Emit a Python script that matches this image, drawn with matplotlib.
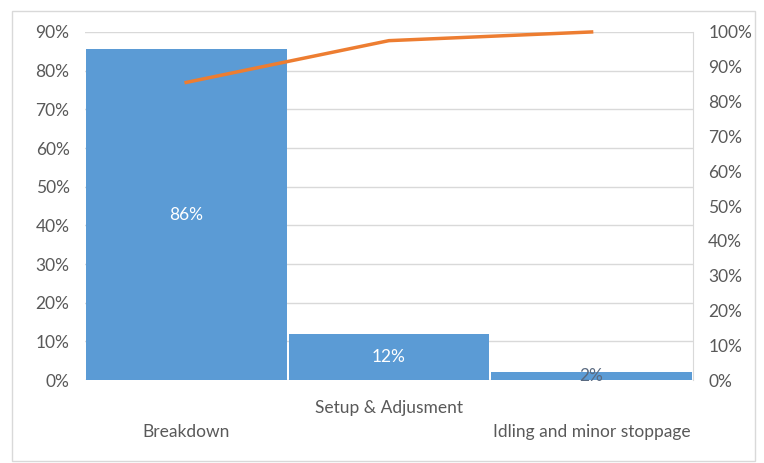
import matplotlib.pyplot as plt
from matplotlib.patches import Rectangle
from matplotlib.ticker import PercentFormatter

# Pareto data (share of losses)
categories = ['Breakdown', 'Setup & Adjusment', 'Idling and minor stoppage']
share = [0.855, 0.12, 0.02]
cumulative = [0.855, 0.975, 1.00]
bar_labels = ['86%', '12%', '2%']

plt.rcParams['font.family'] = ['Lato', 'DejaVu Sans']
grey = '#595959'
fs = 12.5

fig = plt.figure(figsize=(7.64, 4.63), dpi=100)
ax = fig.add_axes([0.111, 0.179, 0.796, 0.752])

x = list(range(len(categories)))
bars = ax.bar(x, share, width=0.99, color='#5B9BD5', zorder=2)
ax.set_xlim(-0.5, 2.5)
ax.set_ylim(0, 0.9)
ax.set_yticks([i / 10 for i in range(10)])
ax.yaxis.set_major_formatter(PercentFormatter(1.0, decimals=0))
ax.grid(axis='y', color='#D9D9D9', linewidth=1, zorder=0)

# staggered category labels like the Excel chart
ax.set_xticks(x)
ax.set_xticklabels(['\n' + categories[0], categories[1], '\n' + categories[2]])
plt.setp(ax.get_xticklabels(), linespacing=1.65)
ax.tick_params(axis='x', length=0, pad=14, labelsize=fs, labelcolor=grey)
ax.tick_params(axis='y', length=0, pad=11, labelsize=fs, labelcolor=grey)
for s in ax.spines.values():
    s.set_visible(False)

# labels inside bars
for i, b in enumerate(bars):
    c = 'white' if share[i] > 0.05 else '#5a6a80'
    ax.text(b.get_x() + b.get_width() / 2, share[i] / 2, bar_labels[i],
            ha='center', va='center', color=c, fontsize=fs)

ax2 = ax.twinx()
ax2.plot(x, cumulative, color='#ED7D31', linewidth=2.5, zorder=3, clip_on=False)
ax2.set_ylim(0, 1.0)
ax2.set_yticks([i / 10 for i in range(11)])
ax2.yaxis.set_major_formatter(PercentFormatter(1.0, decimals=0))
ax2.tick_params(axis='y', length=0, pad=11, labelsize=fs, labelcolor=grey)
for s in ax2.spines.values():
    s.set_visible(False)
ax2.spines['right'].set_visible(True)
ax2.spines['right'].set_color('#D9D9D9')

# outer chart border
fig.patches.append(Rectangle((0.016, 0.005), 0.972, 0.972, transform=fig.transFigure,
                             fill=False, edgecolor='#D9D9D9', linewidth=1))

plt.savefig('out.png')
